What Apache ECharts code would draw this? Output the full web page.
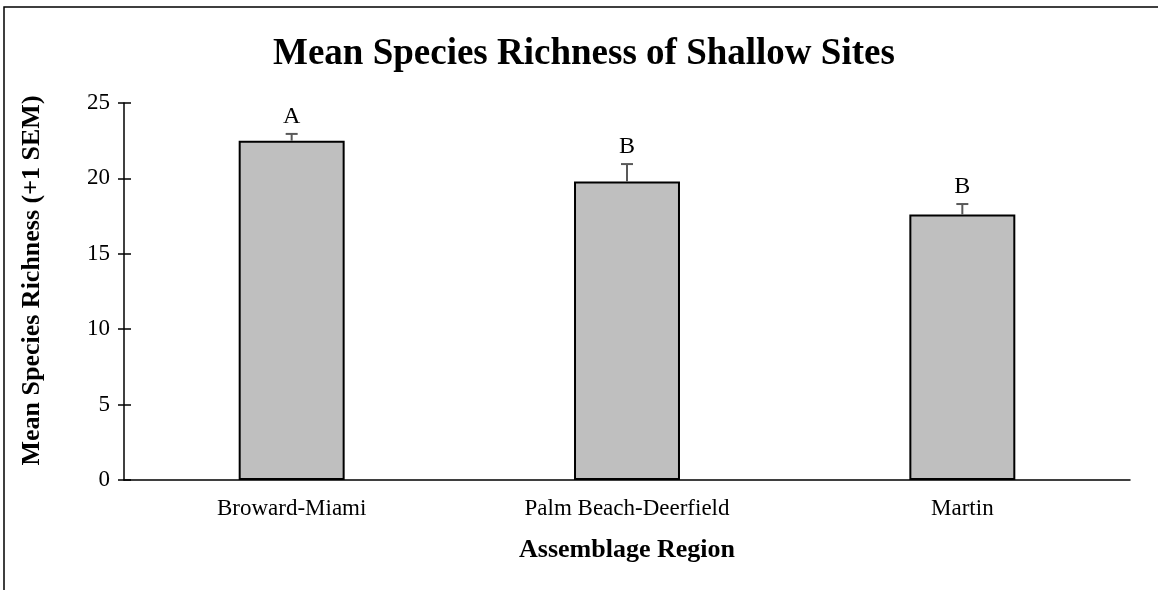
<!DOCTYPE html>
<html>
<head>
<meta charset="utf-8">
<script src="https://cdn.jsdelivr.net/npm/echarts@6/dist/echarts.min.js"></script>
<style>
  html, body { margin: 0; padding: 0; background: #fff; }
  #chart { width: 1158px; height: 590px; }
</style>
</head>
<body>
<div id="chart"></div>
<script>
// Mean species richness by assemblage region, with +1 SEM and significance groups
const regions = ['Broward-Miami', 'Palm Beach-Deerfield', 'Martin'];
const meanRichness = [22.5, 19.8, 17.6];
const sem = [0.45, 1.15, 0.7];
const groupLetters = ['A', 'B', 'B'];
const yTicks = { min: 0, max: 25, interval: 5 };

const serif = '"Liberation Serif", "Times New Roman", serif';
const chart = echarts.init(document.getElementById('chart'));

const errorData = regions.map((r, i) => [i, meanRichness[i], sem[i], groupLetters[i]]);

chart.setOption({
  animation: false,
  backgroundColor: '#fff',
  title: {
    text: 'Mean Species Richness of Shallow Sites',
    left: 268,
    top: 31,
    textStyle: { fontFamily: serif, fontSize: 37, fontWeight: 'bold', color: '#000' }
  },
  graphic: [
    { type: 'polyline', shape: { points: [[4, 590], [4, 7], [1158, 7]] },
      style: { stroke: '#000', lineWidth: 1.5, fill: null } }
  ],
  grid: { left: 124, right: 28, top: 103, bottom: 110 },
  xAxis: {
    type: 'category',
    data: regions,
    axisLine: { lineStyle: { color: '#000', width: 1.5 } },
    axisTick: { show: false },
    axisLabel: { fontFamily: serif, fontSize: 23, color: '#000', margin: 17 },
    name: 'Assemblage Region',
    nameLocation: 'middle',
    nameGap: 57,
    nameTextStyle: { fontFamily: serif, fontSize: 26, fontWeight: 'bold', color: '#000' }
  },
  yAxis: [
    {
      type: 'value',
      min: yTicks.min, max: yTicks.max, interval: yTicks.interval,
      splitLine: { show: false },
      axisLine: { show: true, lineStyle: { color: '#000', width: 1.5 } },
      axisTick: { show: true, length: 6, lineStyle: { color: '#000', width: 1.5 } },
      axisLabel: { fontFamily: serif, fontSize: 23, color: '#000', margin: 14 },
      name: 'Mean Species Richness (+1 SEM)',
      nameLocation: 'middle',
      nameGap: 79,
      nameTextStyle: { fontFamily: serif, fontSize: 26, fontWeight: 'bold', color: '#000',
                       padding: [0, 0, 0, 22] }
    },
    {
      // inner half of the crossing tick marks
      type: 'value',
      position: 'left',
      min: yTicks.min, max: yTicks.max, interval: yTicks.interval,
      splitLine: { show: false },
      axisLine: { show: false },
      axisTick: { show: true, inside: true, length: 7, lineStyle: { color: '#000', width: 1.5 } },
      axisLabel: { show: false }
    }
  ],
  series: [
    {
      type: 'bar',
      data: meanRichness,
      barWidth: '31.6%',
      itemStyle: { color: '#bfbfbf', borderColor: '#000', borderWidth: 2 },
      z: 2
    },
    {
      type: 'custom',
      data: errorData,
      z: 3,
      renderItem: function (params, api) {
        const i = api.value(0);
        const mean = api.value(1);
        const err = api.value(2);
        const top = api.coord([i, mean]);
        const hi = api.coord([i, mean + err]);
        const capHalf = 6;
        return {
          type: 'group',
          children: [
            { type: 'line', shape: { x1: top[0], y1: top[1], x2: hi[0], y2: hi[1] },
              style: { stroke: '#595959', lineWidth: 2 } },
            { type: 'line', shape: { x1: hi[0] - capHalf, y1: hi[1], x2: hi[0] + capHalf, y2: hi[1] },
              style: { stroke: '#595959', lineWidth: 2 } },
            { type: 'text', x: hi[0], y: hi[1] - 5,
              style: { text: api.value(3), fontFamily: serif, fontSize: 24, fill: '#000',
                       align: 'center', verticalAlign: 'bottom' } }
          ]
        };
      }
    }
  ]
});
</script>
</body>
</html>
